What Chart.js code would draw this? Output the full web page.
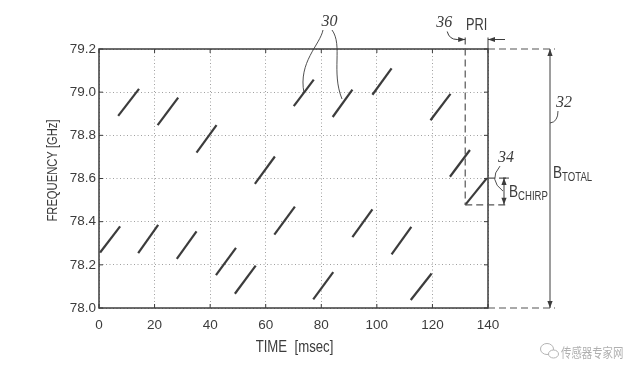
<!DOCTYPE html>
<html>
<head>
<meta charset="utf-8">
<title>Chirp sequence</title>
<script src="https://cdn.jsdelivr.net/npm/chart.js@4.4.1/dist/chart.umd.min.js"></script>
<style>
  html, body { margin: 0; padding: 0; background: #fff; }
  #chirps { display: block; }
</style>
</head>
<body>
<canvas id="chirps" width="625" height="371"></canvas>
<script>
// one entry per chirp: start/end time (msec) and start/end frequency (GHz)
const chirpStart = [0.4, 6.9, 14.1, 21.1, 28.0, 35.1, 42.1, 48.9, 56.1, 63.1, 70.1, 77.1, 84.1, 91.2, 98.4, 105.3, 112.2, 119.3, 126.3, 131.8];
const chirpEnd   = [7.6, 14.4, 21.3, 28.5, 35.1, 42.3, 49.3, 56.4, 63.3, 70.5, 77.3, 84.3, 91.2, 98.4, 105.3, 112.4, 119.7, 126.5, 133.5, 139.6];
const freqStart  = [78.257, 78.890, 78.254, 78.847, 78.228, 78.720, 78.152, 78.066, 78.575, 78.340, 78.935, 78.040, 78.885, 78.328, 78.988, 78.248, 78.037, 78.870, 78.608, 78.478];
const freqEnd    = [78.378, 79.015, 78.385, 78.975, 78.355, 78.847, 78.279, 78.196, 78.702, 78.470, 79.058, 78.166, 79.012, 78.457, 79.110, 78.376, 78.160, 78.992, 78.732, 78.602];

const timeTicks = [0, 20, 40, 60, 80, 100, 120, 140];
const freqTicks = [78.0, 78.2, 78.4, 78.6, 78.8, 79.0, 79.2];
const xTitle = 'TIME  [msec]';
const yTitle = 'FREQUENCY [GHz]';

const ink = '#3c3c3c';
const plain = "'Liberation Sans', Arial, sans-serif";
const serifItalic = "italic 16px 'Liberation Serif', 'DejaVu Serif', serif";

const datasets = chirpStart.map((t0, i) => ({
  data: [{x: t0, y: freqStart[i]}, {x: chirpEnd[i], y: freqEnd[i]}],
  showLine: true,
  borderColor: ink,
  borderWidth: 2.2,
  pointRadius: 0,
  fill: false
}));

function arrowHead(ctx, x, y, angle) {
  ctx.save();
  ctx.translate(x, y);
  ctx.rotate(angle);
  ctx.beginPath();
  ctx.moveTo(0, 0);
  ctx.lineTo(-7, -2.6);
  ctx.lineTo(-7, 2.6);
  ctx.closePath();
  ctx.fill();
  ctx.restore();
}

// no condensed font installed, so squeeze Liberation Sans horizontally
function narrowText(ctx, text, x, y, size, align, rot) {
  ctx.save();
  ctx.translate(x, y);
  if (rot) ctx.rotate(rot);
  ctx.scale(0.8, 1);
  ctx.font = size + 'px ' + plain;
  ctx.textAlign = align;
  ctx.textBaseline = 'middle';
  ctx.fillText(text, 0, 0);
  const w = ctx.measureText(text).width * 0.8;
  ctx.restore();
  return w;
}

// frame, axis titles, inner ticks and the PRI / bandwidth callouts
const annotate = {
  id: 'annotate',
  afterDraw(chart) {
    const {ctx, chartArea: a, scales: {x, y}} = chart;
    const line = (x1, y1, x2, y2) => { ctx.beginPath(); ctx.moveTo(x1, y1); ctx.lineTo(x2, y2); ctx.stroke(); };
    ctx.save();
    ctx.strokeStyle = ink;
    ctx.fillStyle = ink;

    ctx.lineWidth = 1.5;
    ctx.strokeRect(a.left, a.top, a.right - a.left, a.bottom - a.top);

    ctx.lineWidth = 1;
    timeTicks.forEach(v => {
      const px = x.getPixelForValue(v);
      line(px, a.bottom, px, a.bottom - 4);
      line(px, a.top, px, a.top + 4);
    });
    freqTicks.forEach(v => {
      const py = y.getPixelForValue(v);
      line(a.left, py, a.left + 4, py);
      line(a.right, py, a.right - 4, py);
    });

    narrowText(ctx, xTitle, (a.left + a.right) / 2 + 1, a.bottom + 39, 16.5, 'center');
    narrowText(ctx, yTitle, 53, (a.top + a.bottom) / 2 - 8, 14, 'center', -Math.PI / 2);

    // last chirp defines PRI and B_CHIRP
    const k = chirpStart.length - 1;
    const x0 = x.getPixelForValue(chirpStart[k]);
    const x1 = a.right;
    const yLo = y.getPixelForValue(freqStart[k]);
    const yHi = y.getPixelForValue(freqEnd[k]);
    const priY = a.top - 9.5;

    ctx.strokeStyle = '#555';
    ctx.lineWidth = 1.2;
    ctx.setLineDash([7, 4]);
    line(x0, priY - 2, x0, yLo);
    line(x0, yLo, x1 + 20, yLo);
    line(x1, yHi, x1 + 21, yHi);
    line(x1, a.top, x1 + 67, a.top);
    line(x1, a.bottom, x1 + 67, a.bottom);
    ctx.setLineDash([]);
    ctx.strokeStyle = ink;
    ctx.lineWidth = 1;
    line(x1, priY - 2, x1, a.top);

    // PRI arrows
    ctx.beginPath();
    ctx.moveTo(x0 - 18, priY - 8);
    ctx.quadraticCurveTo(x0 - 16, priY, x0 - 8, priY);
    ctx.lineTo(x0, priY);
    ctx.stroke();
    arrowHead(ctx, x0, priY, 0);
    line(x1 + 17, priY, x1, priY);
    arrowHead(ctx, x1, priY, Math.PI);

    // B_TOTAL arrow
    const bx = x1 + 62;
    line(bx, a.top, bx, a.bottom);
    arrowHead(ctx, bx, a.top, -Math.PI / 2);
    arrowHead(ctx, bx, a.bottom, Math.PI / 2);

    // B_CHIRP arrow
    const cx = x1 + 16;
    line(cx, yHi, cx, yLo);
    line(cx - 1, yHi, cx + 5, yHi);
    arrowHead(ctx, cx, yHi, -Math.PI / 2);
    arrowHead(ctx, cx, yLo, Math.PI / 2);

    // leaders
    ctx.lineWidth = 0.9;
    ctx.beginPath();
    ctx.moveTo(bx + 8, a.top + 62);
    ctx.quadraticCurveTo(bx + 8, a.top + 73, bx, a.top + 74);
    ctx.stroke();
    ctx.beginPath();
    ctx.moveTo(cx - 4, yHi - 12);
    ctx.quadraticCurveTo(cx - 16, yHi + 2, cx - 1, yHi + 13);
    ctx.stroke();
    ctx.beginPath();
    ctx.moveTo(323, 30);
    ctx.bezierCurveTo(320, 45, 298, 62, 304, 93);
    ctx.stroke();
    ctx.beginPath();
    ctx.moveTo(332, 30);
    ctx.bezierCurveTo(343, 45, 331, 72, 342, 99);
    ctx.stroke();

    // labels
    ctx.textBaseline = 'middle';
    ctx.textAlign = 'center';
    ctx.font = serifItalic;
    ctx.fillText('30', 329.5, 22);
    ctx.fillText('36', x0 - 21, 23);
    ctx.fillText('32', bx + 14, a.top + 54);
    ctx.fillText('34', cx + 2, yHi - 20);
    narrowText(ctx, 'PRI', (x0 + x1) / 2, 26, 16, 'center');

    const bw = narrowText(ctx, 'B', bx + 3, 173, 17, 'left');
    narrowText(ctx, 'TOTAL', bx + 3 + bw, 178, 12, 'left');
    const cw = narrowText(ctx, 'B', cx + 5, (yHi + yLo) / 2 + 0.5, 17, 'left');
    narrowText(ctx, 'CHIRP', cx + 5 + cw, (yHi + yLo) / 2 + 5.5, 12, 'left');

    // watermark
    ctx.strokeStyle = '#b4b4b4';
    ctx.lineWidth = 1;
    ctx.beginPath();
    ctx.ellipse(547, 349, 6.5, 5.5, 0, 0, Math.PI * 2);
    ctx.stroke();
    ctx.fillStyle = '#fff';
    ctx.beginPath();
    ctx.ellipse(553.5, 354, 5, 4, 0, 0, Math.PI * 2);
    ctx.fill();
    ctx.stroke();
    ctx.fillStyle = '#b0b0b0';
    ctx.save();
    ctx.translate(561, 352);
    ctx.scale(0.8, 1);
    ctx.font = "13px 'Noto Sans CJK SC', sans-serif";
    ctx.textAlign = 'left';
    ctx.fillText('传感器专家网', 0, 0);
    ctx.restore();

    ctx.restore();
  }
};

new Chart(document.getElementById('chirps'), {
  type: 'scatter',
  data: { datasets },
  options: {
    responsive: false,
    animation: false,
    layout: { padding: { left: 0, top: 49, right: 137, bottom: 0 } },
    plugins: { legend: { display: false }, tooltip: { enabled: false } },
    scales: {
      x: {
        type: 'linear',
        min: 0,
        max: 140,
        afterBuildTicks: s => { s.ticks = timeTicks.map(v => ({ value: v })); },
        afterFit: s => { s.height = 63; },
        grid: { color: '#a0a0a0', lineWidth: 1, drawTicks: false },
        border: { display: false, dash: [1, 2.5] },
        ticks: { padding: 9, color: ink, maxRotation: 0, font: { family: plain, size: 13.5 } }
      },
      y: {
        type: 'linear',
        min: 78,
        max: 79.2,
        afterBuildTicks: s => { s.ticks = freqTicks.map(v => ({ value: v })); },
        afterFit: s => { s.width = 99; },
        grid: { color: '#a0a0a0', lineWidth: 1, drawTicks: false },
        border: { display: false, dash: [1, 2.5] },
        ticks: { padding: 3, color: ink, font: { family: plain, size: 13.5 }, callback: v => v.toFixed(1) }
      }
    }
  },
  plugins: [annotate]
});
</script>
</body>
</html>
